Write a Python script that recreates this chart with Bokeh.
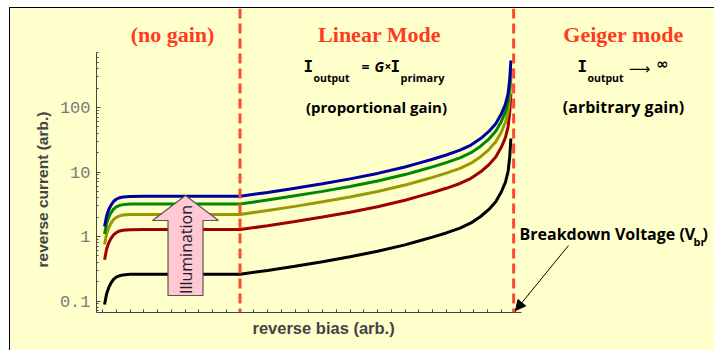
import math
from bokeh.plotting import figure
from bokeh.models import (Range1d, FixedTicker, NumeralTickFormatter, Label, Span,
                          Arrow, NormalHead, Title)
from bokeh.embed import file_html
from bokeh.resources import INLINE

# ---------------- data ----------------
bias = [0.15, 0.3, 0.45, 0.6, 0.8, 1.0, 1.25, 1.5, 2.0, 3.0,
        10, 12, 14, 16, 18, 20, 22, 23, 24, 25, 26, 26.8, 27.5, 28.1, 28.6,
        29.0, 29.3, 29.5, 29.62, 29.7]
current_blue = [1.43, 2.1, 2.6, 3.02, 3.49, 3.78, 3.99, 4.1, 4.18, 4.2,
                4.2, 4.82, 5.60, 6.58, 7.82, 9.51, 11.97, 13.75, 15.78, 18.33,
                21.79, 26.2, 32.98, 42.5, 56.0, 79.1, 111.8, 165.3, 280.7, 535]
current_green = [1.09, 1.6, 1.98, 2.3, 2.66, 2.88, 3.04, 3.12, 3.18, 3.2,
                 3.2, 3.67, 4.27, 5.01, 5.96, 7.25, 9.12, 10.47, 12.03, 13.97,
                 16.6, 19.96, 25.13, 32.38, 42.69, 60.3, 85.2, 126, 213.9, 408]
current_olive = [0.75, 1.1, 1.36, 1.58, 1.83, 1.98, 2.09, 2.15, 2.19, 2.2,
                 2.2, 2.53, 2.93, 3.45, 4.10, 4.98, 6.27, 7.20, 8.27, 9.60,
                 11.41, 13.72, 17.27, 22.26, 29.35, 41.4, 58.5, 86.6, 147, 280]
current_red = [0.435, 0.64, 0.79, 0.92, 1.06, 1.15, 1.22, 1.25, 1.27, 1.28,
               1.28, 1.47, 1.71, 2.01, 2.38, 2.90, 3.65, 4.19, 4.81, 5.59,
               6.64, 7.98, 10.05, 12.95, 17.08, 24.1, 34.1, 50.4, 85.5, 163]
current_dark = [0.088, 0.13, 0.161, 0.187, 0.216, 0.234, 0.247, 0.254, 0.259, 0.26,
                0.26, 0.298, 0.347, 0.407, 0.484, 0.589, 0.741, 0.851, 0.977, 1.135,
                1.349, 1.622, 2.042, 2.631, 3.468, 4.90, 6.92, 10.23, 17.38, 33.1]
region_edges = [10, 29.9]          # end of "no gain", breakdown voltage
y_ticks = [0.1, 1, 10, 100]
y_minor_ticks = [0.07, 0.08, 0.09, 0.2, 0.3, 0.4, 0.5, 0.6, 0.7, 0.8, 0.9,
                 2, 3, 4, 5, 6, 7, 8, 9, 20, 30, 40, 50, 60, 70, 80, 90,
                 200, 300, 400, 500, 600, 700]
x_ticks = list(range(0, 31))

# ---------------- layout helpers (page pixels -> data) ----------------
def dx(px):
    return (px - 102) / 13.75

def dy(py):
    return 10 ** ((236 - py) / 64.5)

BG = "#FFFFCC"
RED = "#FF3B1F"
DASH = "#FF4A2A"
AX = "#444444"

p = figure(width=705, height=343, y_axis_type="log",
           x_range=Range1d(dx(96), dx(715)), y_range=Range1d(dy(312), dy(8)),
           output_backend="svg", toolbar_location=None, title=None,
           min_border_left=86, min_border_right=0, min_border_top=0,
           min_border_bottom=39)
p.styles = {"margin-left": "9px", "margin-top": "7px",
            "border-top": "1px solid black", "border-left": "1px solid black"}
p.background_fill_color = BG
p.border_fill_color = BG
p.outline_line_color = None
p.grid.visible = False

# axes
xa = p.xaxis[0]
xa.ticker = FixedTicker(ticks=[], minor_ticks=x_ticks)
xa.bounds = (dx(96), dx(521))
xa.major_tick_line_color = None
xa.minor_tick_in = 3
xa.minor_tick_out = 0
xa.minor_tick_line_color = AX
xa.axis_line_color = AX

ya = p.yaxis[0]
ya.ticker = FixedTicker(ticks=y_ticks, minor_ticks=y_minor_ticks)
ya.formatter = NumeralTickFormatter(format="0.[0]")
ya.bounds = (dy(312), dy(52))
ya.major_tick_in = 4
ya.major_tick_out = 0
ya.minor_tick_in = 2
ya.minor_tick_out = 0
ya.axis_line_color = AX
ya.major_tick_line_color = AX
ya.minor_tick_line_color = AX
ya.major_label_text_font = "Liberation Mono"
ya.major_label_text_font_size = "17px"
ya.major_label_text_color = "#7a7a7a"
ya.major_label_standoff = 6

p.add_layout(Title(text="reverse current (arb.)", align="left", offset=45,
                   text_font="Liberation Sans", text_font_size="15.5px",
                   text_font_style="bold", standoff=12), "left")
p.add_layout(Title(text="reverse bias (arb.)", align="left", offset=156,
                   text_font="Liberation Sans", text_font_size="16.5px",
                   text_font_style="bold", vertical_align="middle"), "below")

# curves
for ys, col in [(current_dark, "#000000"), (current_red, "#A00000"),
                (current_olive, "#999900"), (current_green, "#008800"),
                (current_blue, "#0000A0")]:
    p.line(bias, ys, line_color=col, line_width=3)

# illumination arrow
cx, sw, hw = dx(185), 17.5 / 13.75, 33 / 13.75
yt, yh, yb = dy(195), dy(220), dy(295)
p.patch([cx - sw, cx - sw, cx - hw, cx, cx + hw, cx + sw, cx + sw],
        [yb, yh, yh, yt, yh, yh, yb],
        fill_color="#FFC8D2", line_color="#555555", line_width=1.2)
p.add_layout(Label(x=cx, y=dy(249), text="Illumination", angle=math.pi / 2,
                   text_align="center", text_baseline="middle",
                   text_font="Open Sans", text_font_size="16px", text_color="#222222"))

# region boundaries
for loc in region_edges:
    p.add_layout(Span(location=loc, dimension="height", line_color=DASH,
                      line_width=3, line_dash="10 5"))

# headings
for s, px in [("(no gain)", 172), ("Linear Mode", 379), ("Geiger mode", 623)]:
    p.add_layout(Label(x=dx(px), y=dy(34), text=s, text_align="center",
                       text_baseline="middle", text_font="Liberation Serif",
                       text_font_size="22px", text_font_style="bold", text_color=RED))

def txt(px, py, s, size="15px", style="bold", align="left", font="Open Sans"):
    p.add_layout(Label(x=dx(px), y=dy(py), text=s, text_align=align,
                       text_baseline="middle", text_font=font,
                       text_font_size=size, text_font_style=style, text_color="black"))

# linear mode formula
txt(303, 66, "I", size="16px", font="DejaVu Sans Mono")
txt(313, 77, "output", size="10.5px")
txt(361, 66, "=", size="14px")
txt(374, 66, "G", size="14px", style="bold italic")
txt(384, 66, "×", size="12px")
txt(390, 66, "I", size="16px", font="DejaVu Sans Mono")
txt(400, 77, "primary", size="11px")
txt(376, 106, "(proportional gain)", size="15px", align="center")
# geiger formula
txt(577, 66, "I", size="16px", font="DejaVu Sans Mono")
txt(587, 77, "output", size="10.5px")
txt(639, 68, "⟶", size="15px", style="normal", align="center", font="DejaVu Sans")
txt(662, 63, "∞", size="15px", align="center", font="DejaVu Sans")
txt(623, 106, "(arbitrary gain)", size="16px", align="center")
# breakdown
txt(519, 233, "Breakdown Voltage (V", size="16px")
txt(693, 241, "br", size="11px")
txt(702, 233, ")", size="16px")
p.add_layout(Arrow(end=NormalHead(size=10, fill_color="black", line_color="black"),
                   x_start=dx(568), y_start=dy(245), x_end=dx(515), y_end=dy(310),
                   line_color="black", line_width=1))

open("out.html", "w").write(file_html(p, INLINE))
